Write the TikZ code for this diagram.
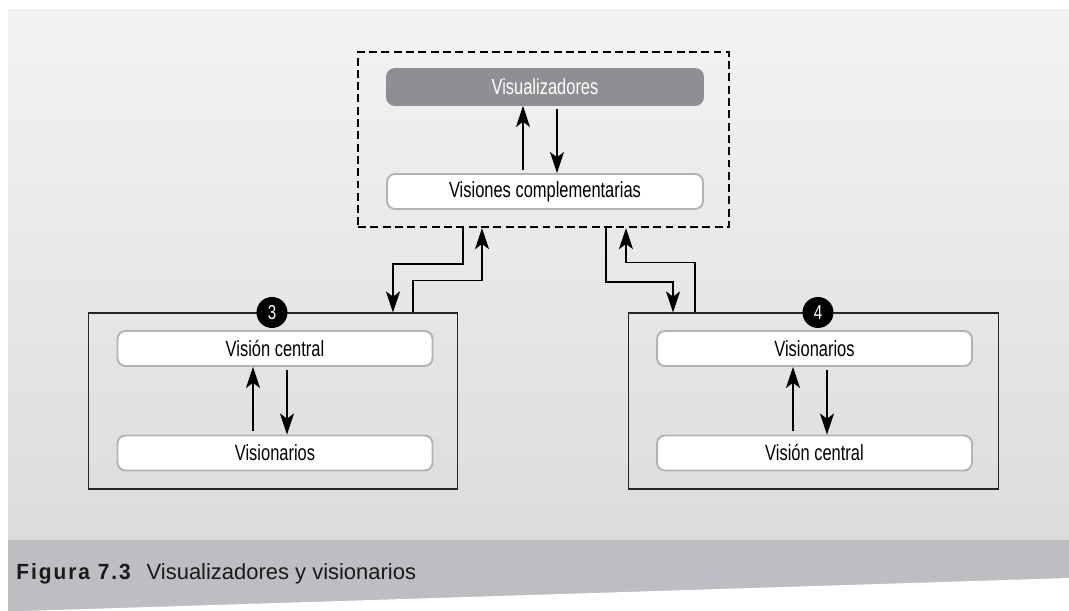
\documentclass[tikz,border=0pt]{standalone}
\usepackage{fontspec}
\setmainfont{Liberation Sans}[FakeStretch=0.75]
\newfontfamily\capfont{Liberation Sans}
\newfontfamily\figfont{Liberation Sans}[FakeStretch=0.95,LetterSpace=9]
\usepackage{tikz}
\usetikzlibrary{arrows.meta}
\definecolor{fondoarriba}{HTML}{F3F3F3}
\definecolor{fondoabajo}{HTML}{DCDCDC}
\definecolor{banda}{HTML}{BDBEC2}
\definecolor{grisosc}{HTML}{8E8F92}
\definecolor{bordegris}{HTML}{B3B3B3}
\tikzset{
	caja/.style={draw=bordegris, line width=1.1pt, fill=white, rounded corners=4.5pt,
		minimum width=6.3cm, minimum height=0.7cm, font=\fontsize{12.5}{14}\selectfont},
	cajaosc/.style={caja, fill=grisosc, draw=grisosc, text=white},
	grupo/.style={draw=black!85, line width=0.6pt, minimum width=7.4cm, minimum height=3.52cm},
	marco/.style={draw=black, line width=1.3pt, dash pattern=on 4.5pt off 2.5pt,
		minimum width=7.42cm, minimum height=3.5cm},
	numero/.style={circle, fill=black, text=white, minimum size=0.62cm, inner sep=0pt,
		font=\fontsize{11.5}{13}\selectfont},
	flecha/.style={->, line width=0.9pt}
}
\begin{document}
\begin{tikzpicture}[x=0.02cm, y=-0.02cm, >={Stealth[length=12pt,width=8pt,inset=3pt]}]
		\useasboundingbox (0,0) rectangle (1069,611);
		%fondo
		\fill[top color=fondoarriba, bottom color=fondoabajo] (8,10) rectangle (1069,540);
		\fill[banda] (8,540) rectangle (1069,611);
		\fill[white] (8,611.5) -- (1069,578) -- (1069,611.5) -- cycle;
		%arriba
		\node[marco] (top) at (543.5,139.5) {};
		\node[cajaosc, minimum width=6.32cm, minimum height=0.72cm] (viz) at (545,87) {Visualizadores};
		\node[caja, minimum width=6.32cm] (vc) at (545,191.5) {Visiones complementarias};
		\draw [flecha, shorten <=2pt] ([xshift=-0.44cm]vc.north) -- ([xshift=-0.44cm]viz.south);
		\draw [flecha, shorten <=2pt] ([xshift=0.24cm]viz.south) -- ([xshift=0.24cm]vc.north);
		%3
		\node[grupo] (g3) at (273,401) {};
		\node[numero] (n3) at ([xshift=-0.02cm]g3.north) {3};
		\node[caja] (vcen3) at (275,348.5) {Visión central};
		\node[caja] (vis3) at (275,453) {Visionarios};
		\draw [flecha, shorten <=2pt] ([xshift=-0.44cm]vis3.north) -- ([xshift=-0.44cm]vcen3.south);
		\draw [flecha, shorten <=2pt] ([xshift=0.24cm]vcen3.south) -- ([xshift=0.24cm]vis3.north);
		%4
		\node[grupo, minimum width=7.42cm] (g4) at (813.5,401) {};
		\node[numero] (n4) at ([xshift=0.09cm]g4.north) {4};
		\node[caja] (vis4) at (814.5,348.5) {Visionarios};
		\node[caja] (vcen4) at (814.5,453) {Visión central};
		\draw [flecha, shorten <=2pt] ([xshift=-0.43cm]vcen4.north) -- ([xshift=-0.43cm]vis4.south);
		\draw [flecha, shorten <=2pt] ([xshift=0.25cm]vis4.south) -- ([xshift=0.25cm]vcen4.north);
		%entre grupos
		\draw [flecha] ([xshift=-1.61cm]top.south) -- ++(0,-0.72cm) -| ([xshift=2.4cm]g3.north);
		\draw [flecha] ([xshift=2.8cm]g3.north) -- ++(0,0.64cm) -| ([xshift=-1.23cm]top.south);
		\draw [flecha] ([xshift=1.25cm]top.south) -- ++(0,-1.08cm) -| ([xshift=-2.81cm]g4.north);
		\draw [flecha] ([xshift=-2.37cm]g4.north) -- ++(0,1.0cm) -| ([xshift=1.65cm]top.south);
		%pie
		\node[anchor=base west, inner sep=0pt, text=black!90, font=\fontsize{12.5}{14}\selectfont] (pie) at (16,579)
			{{\figfont\bfseries Figura 7.3}\hspace{0.32cm}{\capfont Visualizadores y visionarios}};
\end{tikzpicture}
\end{document}
